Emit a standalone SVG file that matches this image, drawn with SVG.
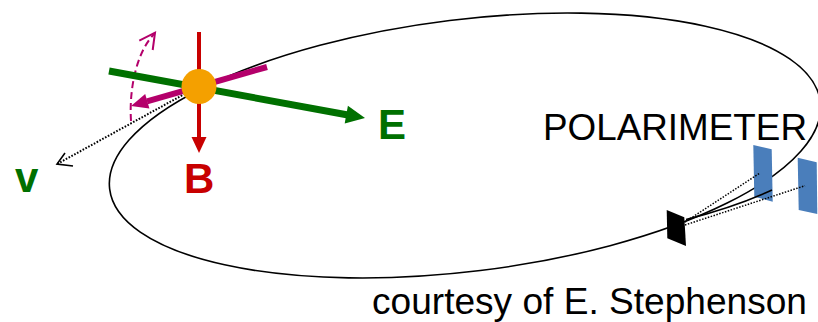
<svg xmlns="http://www.w3.org/2000/svg" width="818" height="322" viewBox="0 0 818 322">
  <style>
    .lbl { font-family: "Liberation Sans", Arial, sans-serif; }
    .big { font-size: 42px; font-weight: bold; }
    .txt { font-size: 37px; fill: #000; }
    .dot { fill: none; stroke: #000; stroke-linecap: butt; }
    .panel { fill: #4a7ebb; }
  </style>

  <!-- storage ring orbit -->
  <g id="ring">
    <ellipse cx="465" cy="145.5" rx="358" ry="126" transform="rotate(-7 465 145.5)" fill="none" stroke="#000" stroke-width="1.6"/>
  </g>

  <!-- polarimeter: detector panels and target -->
  <g id="polarimeter">
    <polygon class="panel" points="753.3,145 771.7,149.3 772.7,201.7 754.3,196.7"/>
    <polygon class="panel" points="797.7,157.7 816.7,162.3 817.3,214 798.7,210"/>
    <polygon points="666.7,210 684.3,217.3 686,246 667.3,238.3" fill="#000"/>
    <!-- ring arc redrawn over the near panel -->
    <path d="M686,219.5 Q735,207 772,190" fill="none" stroke="#000" stroke-width="1.6"/>
    <line class="dot" x1="685" y1="222" x2="759.5" y2="173.3" stroke-width="1.5" stroke-dasharray="1.5 1.5"/>
    <line class="dot" x1="685" y1="225" x2="805" y2="185.7" stroke-width="1.5" stroke-dasharray="1.5 1.5"/>
  </g>

  <!-- vectors attached to the particle -->
  <g id="connectors">
    <!-- velocity (dotted) -->
    <line class="dot" x1="199" y1="86" x2="58" y2="163.5" stroke-width="2" stroke-dasharray="1.6 1.6"/>
    <polyline points="65,153 57,164 73,166" fill="none" stroke="#000" stroke-width="1.6"/>
    <!-- precession sense (dashed) -->
    <path d="M131,121 C129,90 136,52 155,33" fill="none" stroke="#b4006b" stroke-width="2" stroke-dasharray="7 4"/>
    <polyline points="139.3,40.7 155,32.7 152.7,50" fill="none" stroke="#b4006b" stroke-width="2"/>
    <!-- electric field E -->
    <line x1="109" y1="71" x2="348" y2="115" stroke="#007000" stroke-width="7"/>
    <polygon points="347.9,105.8 365,118 344.7,123.5" fill="#007000"/>
    <!-- spin -->
    <line x1="267" y1="67" x2="147" y2="101.3" stroke="#b4006b" stroke-width="6"/>
    <polygon points="149.4,108.5 131,106 145.2,94.1" fill="#b4006b"/>
    <!-- magnetic field B -->
    <line x1="199" y1="32" x2="199" y2="138" stroke="#c80000" stroke-width="4"/>
    <polygon points="191.5,137 206.5,137 199,153" fill="#c80000"/>
  </g>

  <!-- particle -->
  <g id="particle">
    <circle cx="199" cy="86.5" r="17.5" fill="#f4a000"/>
  </g>

  <!-- labels -->
  <g id="label-v"><text class="lbl big" x="15" y="192" fill="#007000">v</text></g>
  <g id="label-B"><text class="lbl big" x="184" y="193" fill="#c80000">B</text></g>
  <g id="label-E"><text class="lbl big" x="378" y="139" fill="#007000">E</text></g>
  <g id="label-polarimeter"><text class="lbl txt" x="543" y="140" textLength="264" lengthAdjust="spacingAndGlyphs">POLARIMETER</text></g>
  <g id="label-credit"><text class="lbl txt" x="372" y="314" font-size="34" textLength="435" lengthAdjust="spacingAndGlyphs">courtesy of E. Stephenson</text></g>
</svg>
